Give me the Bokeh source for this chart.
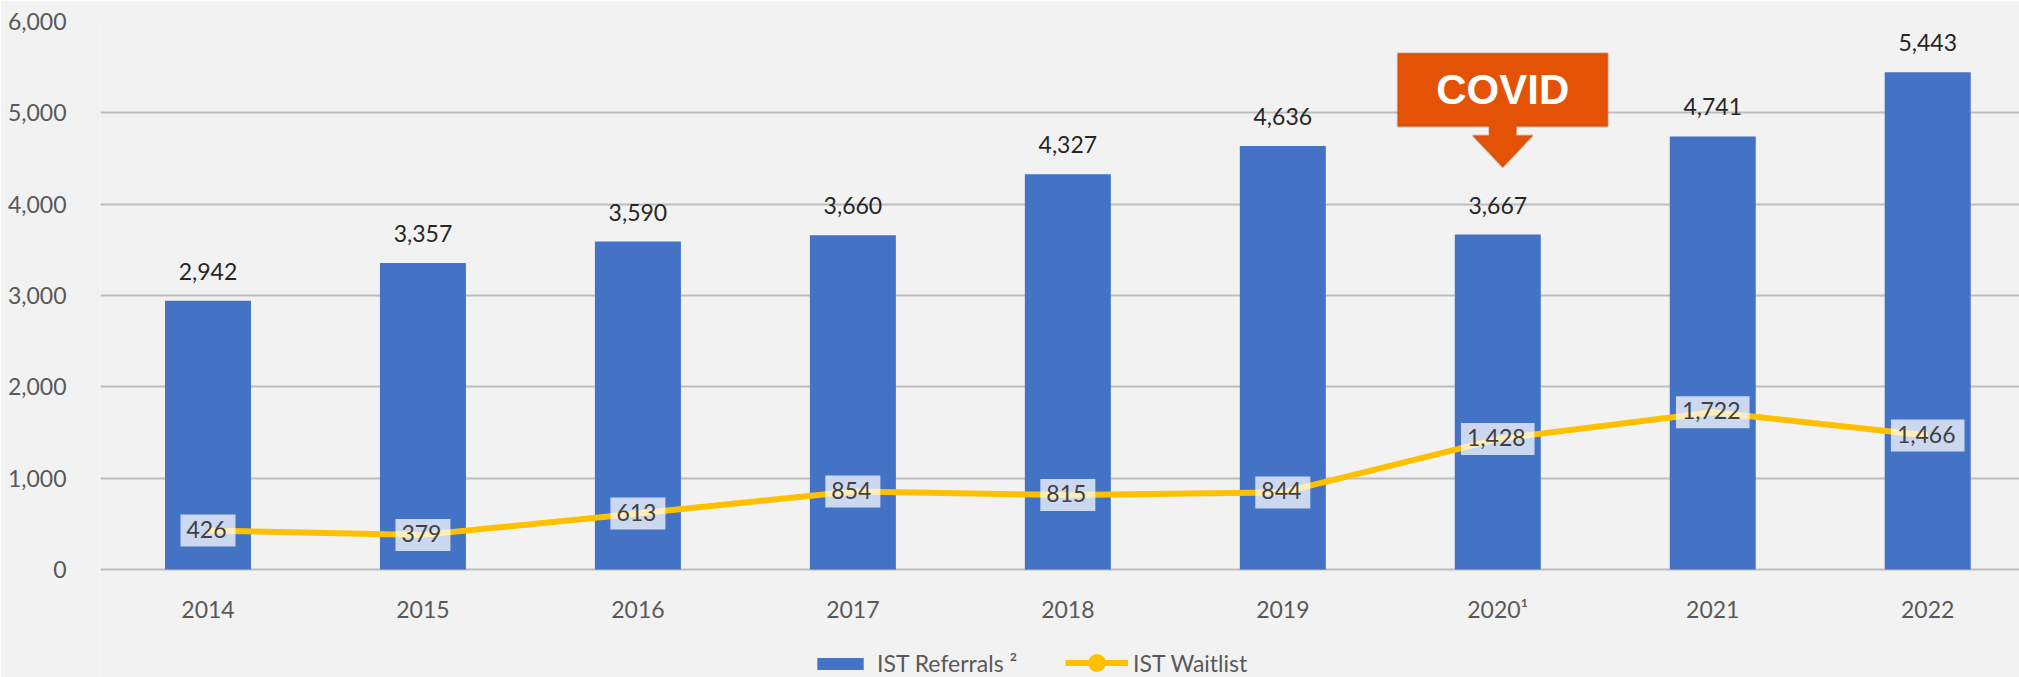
from bokeh.plotting import figure
from bokeh.models import (ColumnDataSource, Range1d, FixedTicker, NumeralTickFormatter,
                          LabelSet, Label, Legend, LegendItem, PolyAnnotation)
from bokeh.core.properties import value
from bokeh.embed import file_html
from bokeh.resources import INLINE

# ---- data ----
years = ["2014", "2015", "2016", "2017", "2018", "2019", "2020\u00b9", "2021", "2022"]
referrals = [2942, 3357, 3590, 3660, 4327, 4636, 3667, 4741, 5443]
waitlist = [426, 379, 613, 854, 815, 844, 1428, 1722, 1466]
y_ticks = [0, 1000, 2000, 3000, 4000, 5000, 6000]
series_names = ["IST Referrals \u00b2", "IST Waitlist"]
callout_text = "COVID"
callout_year = "2020\u00b9"

n = len(years)
xs = [i + 0.5 for i in range(n)]
src = ColumnDataSource(dict(
    x=xs, ref=referrals, wait=waitlist,
    ref_lbl=[f"{v:,}" for v in referrals],
    wait_lbl=[f"{v:,}" for v in waitlist],
))

FONT = "Lato"
GREY = "#595959"

# frame runs to the bottom of the canvas so the legend (drawn in the frame) is not clipped;
# y=0 stays at the same pixel row as in the reference
p = figure(width=2019, height=677, x_range=Range1d(0, 8.927), y_range=Range1d(-1182.5, 6000),
           output_backend="svg", toolbar_location=None,
           min_border_left=100, min_border_right=0, min_border_top=21, min_border_bottom=0,
           background_fill_color="#f2f2f2", border_fill_color="#f2f2f2",
           outline_line_color=None)

# axes
p.xaxis.ticker = FixedTicker(ticks=xs)
p.xaxis.major_label_overrides = {x: y for x, y in zip(xs, years)}
p.xaxis.fixed_location = 0
p.yaxis.ticker = FixedTicker(ticks=y_ticks)
p.yaxis.formatter = NumeralTickFormatter(format="0,0")
for ax in (p.xaxis, p.yaxis):
    ax.axis_line_color = None
    ax.major_tick_line_color = None
    ax.minor_tick_line_color = None
    ax.major_label_text_font = FONT
    ax.major_label_text_font_size = "23px"
    ax.major_label_text_color = GREY
p.yaxis.major_label_standoff = 28
p.xaxis.major_label_standoff = 20
p.xgrid.grid_line_color = None
p.ygrid.grid_line_color = "#bdbdbd"
p.ygrid.grid_line_width = 2

# bars
bars = p.vbar(x="x", top="ref", width=0.4, source=src, fill_color="#4472C4", line_color=None)

# line
ln = p.line(x="x", y="wait", source=src, line_color="#FFC000", line_width=6)
mk = p.scatter(x="x", y="wait", source=src, size=0, fill_color="#FFC000", line_color=None)

# waitlist labels with boxes
p.text(x="x", y="wait", text="wait_lbl", source=src, text_align="center", text_baseline="middle",
       text_font=value(FONT), text_font_size="23px", text_color="#404040",
       background_fill_color="white", background_fill_alpha=0.72, padding=(6, 9, 6, 9))

# bar labels
p.add_layout(LabelSet(x="x", y="ref", text="ref_lbl", source=src, text_align="center",
                      text_baseline="alphabetic", y_offset=21, text_font=value(FONT),
                      text_font_size="23px", text_color="#262626"))

# COVID callout
cx = years.index(callout_year) + 0.5 + 0.023
top, box_bot, stem_bot, tip = 5653, 4851, 4752, 4404
bw, sw, hw = 0.4885, 0.063, 0.14
p.add_layout(PolyAnnotation(
    xs=[cx - bw, cx + bw, cx + bw, cx + sw, cx + sw, cx + hw, cx, cx - hw, cx - sw, cx - sw, cx - bw],
    ys=[top, top, box_bot, box_bot, stem_bot, stem_bot, tip, stem_bot, stem_bot, box_bot, box_bot],
    fill_color="#E35205", fill_alpha=1, line_color="#B0450E", line_width=2))
p.add_layout(Label(x=cx, y=5256, text=callout_text, text_align="center", text_baseline="middle",
                   text_font="Liberation Sans", text_font_style="bold", text_font_size="42px",
                   text_color="white"))

# legends
common = dict(orientation="horizontal", padding=0, margin=0, spacing=0,
              border_line_color=None, background_fill_alpha=0,
              label_text_font=FONT, label_text_font_size="23px", label_text_color=GREY)
leg1 = Legend(items=[LegendItem(label=series_names[0], renderers=[bars])],
              location=(711, 0), glyph_width=58, glyph_height=15, label_standoff=8, **common)
leg2 = Legend(items=[LegendItem(label=series_names[1], renderers=[ln, mk])],
              location=(965, -8), glyph_width=63, glyph_height=45, label_standoff=5, **common)
p.add_layout(leg1, "center")
p.add_layout(leg2, "center")

open("out.html", "w").write(file_html(p, INLINE))
